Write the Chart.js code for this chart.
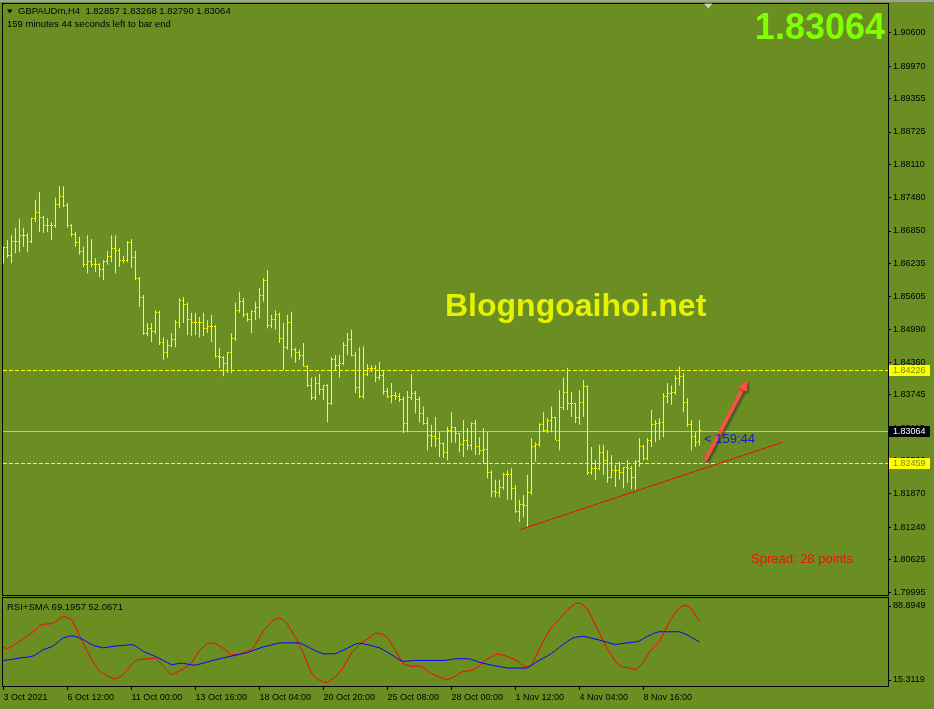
<!DOCTYPE html>
<html>
<head>
<meta charset="utf-8">
<script src="https://cdn.jsdelivr.net/npm/chart.js@4.4.0/dist/chart.umd.min.js"></script>
<style>
  body { margin: 0; background: #6b8e23; width: 934px; height: 709px; overflow: hidden; position: relative; }
  #mainChart { position: absolute; left: 0; top: 0; }
  #rsiChart { position: absolute; left: 0; top: 596px; }
</style>
</head>
<body>
<canvas id="mainChart" width="934" height="596"></canvas>
<canvas id="rsiChart" width="934" height="113"></canvas>
<script>
// GBPAUD H4 bars
const opens = [
  1.8649,1.8653,1.8638,1.8666,1.8666,1.8676,1.8676,1.8666,1.8708,1.8721,
  1.8710,1.8696,1.8695,1.8696,1.8736,1.8751,1.8734,1.8695,1.8679,1.8664,
  1.8647,1.8621,1.8628,1.8621,1.8621,1.8613,1.8628,1.8636,1.8651,1.8649,
  1.8630,1.8630,1.8664,1.8634,1.8596,1.8560,1.8490,1.8501,1.8494,1.8530,
  1.8473,1.8454,1.8469,1.8479,1.8511,1.8554,1.8545,1.8518,1.8511,1.8511,
  1.8511,1.8501,1.8505,1.8505,1.8448,1.8445,1.8435,1.8454,1.8481,1.8535,
  1.8551,1.8526,1.8518,1.8532,1.8541,1.8562,1.8592,1.8507,1.8518,1.8526,
  1.8481,1.8464,1.8511,1.8460,1.8454,1.8450,1.8429,1.8392,1.8369,1.8397,
  1.8384,1.8392,1.8359,1.8441,1.8431,1.8435,1.8469,1.8479,1.8450,1.8388,
  1.8371,1.8414,1.8424,1.8424,1.8407,1.8412,1.8382,1.8371,1.8373,1.8371,
  1.8365,1.8320,1.8369,1.8378,1.8365,1.8340,1.8321,1.8297,1.8295,1.8293,
  1.8282,1.8266,1.8308,1.8312,1.8301,1.8280,1.8289,1.8278,1.8321,1.8276,
  1.8270,1.8272,1.8227,1.8191,1.8189,1.8200,1.8223,1.8223,1.8198,1.8153,
  1.8168,1.8166,1.8189,1.8276,1.8280,1.8318,1.8308,1.8327,1.8331,1.8289,
  1.8350,1.8380,1.8359,1.8359,1.8331,1.8361,1.8390,1.8227,1.8236,1.8236,
  1.8266,1.8251,1.8219,1.8232,1.8232,1.8227,1.8238,1.8236,1.8219,1.8248,
  1.8276,1.8255,1.8289,1.8318,1.8321,1.8323,1.8371,1.8378,1.8380,1.8405,
  1.8410,1.8361,1.8318,1.8295,1.82857
];
const highs = [
  1.8655,1.8668,1.8677,1.8691,1.8708,1.8691,1.8681,1.8710,1.8744,1.8759,
  1.8714,1.8710,1.8702,1.8748,1.8770,1.8770,1.8738,1.8698,1.8683,1.8674,
  1.8655,1.8677,1.8670,1.8634,1.8624,1.8630,1.8647,1.8677,1.8677,1.8653,
  1.8638,1.8666,1.8670,1.8647,1.8598,1.8564,1.8511,1.8511,1.8535,1.8534,
  1.8484,1.8479,1.8492,1.8516,1.8558,1.8560,1.8549,1.8530,1.8530,1.8522,
  1.8530,1.8516,1.8526,1.8507,1.8464,1.8448,1.8456,1.8492,1.8549,1.8570,
  1.8558,1.8530,1.8535,1.8551,1.8577,1.8596,1.8611,1.8526,1.8535,1.8530,
  1.8511,1.8526,1.8532,1.8464,1.8460,1.8473,1.8431,1.8407,1.8409,1.8414,
  1.8393,1.8395,1.8446,1.8450,1.8450,1.8475,1.8492,1.8498,1.8456,1.8465,
  1.8467,1.8433,1.8431,1.8431,1.8437,1.8420,1.8388,1.8397,1.8380,1.8378,
  1.8371,1.8382,1.8414,1.8382,1.8371,1.8352,1.8333,1.8318,1.8333,1.8304,
  1.8284,1.8314,1.8342,1.8314,1.8302,1.8327,1.8312,1.8323,1.8327,1.8295,
  1.8312,1.8304,1.8232,1.8214,1.8214,1.8227,1.8232,1.8236,1.8204,1.8176,
  1.8185,1.8223,1.8293,1.8285,1.8321,1.8342,1.8331,1.8352,1.8333,1.8384,
  1.8407,1.8426,1.8380,1.8359,1.8384,1.8403,1.8393,1.8276,1.8251,1.8280,
  1.8280,1.8270,1.8261,1.8242,1.8248,1.8238,1.8251,1.8240,1.8251,1.8293,
  1.8280,1.8293,1.8346,1.8327,1.8331,1.8378,1.8397,1.8393,1.8412,1.8428,
  1.8416,1.8369,1.8327,1.8304,1.83268
];
const lows = [
  1.8624,1.8634,1.8624,1.8643,1.8645,1.8655,1.8645,1.8662,1.8702,1.8683,
  1.8681,1.8683,1.8668,1.8691,1.8729,1.8730,1.8691,1.8674,1.8655,1.8640,
  1.8617,1.8605,1.8617,1.8607,1.8598,1.8592,1.8621,1.8626,1.8605,1.8617,
  1.8624,1.8626,1.8615,1.8592,1.8541,1.8488,1.8486,1.8475,1.8490,1.8469,
  1.8441,1.8445,1.8465,1.8465,1.8501,1.8511,1.8488,1.8486,1.8488,1.8484,
  1.8486,1.8492,1.8475,1.8445,1.8426,1.8410,1.8416,1.8416,1.8477,1.8530,
  1.8522,1.8513,1.8492,1.8516,1.8520,1.8551,1.8501,1.8501,1.8498,1.8473,
  1.8422,1.8460,1.8445,1.8435,1.8441,1.8428,1.8390,1.8365,1.8365,1.8375,
  1.8365,1.8323,1.8356,1.8422,1.8407,1.8431,1.8450,1.8448,1.8378,1.8369,
  1.8367,1.8410,1.8418,1.8399,1.8403,1.8375,1.8369,1.8359,1.8365,1.8361,
  1.8302,1.8304,1.8365,1.8340,1.8323,1.8318,1.8270,1.8276,1.8276,1.8257,
  1.8255,1.8251,1.8284,1.8284,1.8266,1.8257,1.8270,1.8270,1.8261,1.8261,
  1.8246,1.8217,1.8181,1.8181,1.8181,1.8195,1.8176,1.8176,1.8151,1.8134,
  1.8143,1.8124,1.8185,1.8248,1.8276,1.8304,1.8302,1.8304,1.8289,1.8270,
  1.8346,1.8346,1.8333,1.8321,1.8318,1.8333,1.8223,1.8223,1.8214,1.8232,
  1.8223,1.8208,1.8217,1.8200,1.8214,1.8198,1.8208,1.8196,1.8195,1.8238,
  1.8251,1.8251,1.8276,1.8285,1.8289,1.8295,1.8359,1.8356,1.8375,1.8393,
  1.8342,1.8314,1.8270,1.8276,1.82790
];
const closes = [
  1.8653,1.8638,1.8666,1.8666,1.8676,1.8676,1.8666,1.8708,1.8721,1.8710,
  1.8696,1.8695,1.8696,1.8736,1.8751,1.8734,1.8695,1.8679,1.8664,1.8647,
  1.8621,1.8628,1.8621,1.8621,1.8613,1.8628,1.8636,1.8651,1.8649,1.8630,
  1.8630,1.8664,1.8634,1.8596,1.8560,1.8490,1.8501,1.8494,1.8530,1.8473,
  1.8454,1.8469,1.8479,1.8511,1.8554,1.8545,1.8518,1.8511,1.8511,1.8511,
  1.8501,1.8505,1.8505,1.8448,1.8445,1.8435,1.8454,1.8481,1.8535,1.8551,
  1.8526,1.8518,1.8532,1.8541,1.8562,1.8592,1.8507,1.8518,1.8526,1.8481,
  1.8464,1.8511,1.8460,1.8454,1.8450,1.8429,1.8392,1.8369,1.8397,1.8384,
  1.8392,1.8359,1.8441,1.8431,1.8435,1.8469,1.8479,1.8450,1.8388,1.8371,
  1.8414,1.8424,1.8424,1.8407,1.8412,1.8382,1.8371,1.8373,1.8371,1.8365,
  1.8320,1.8369,1.8378,1.8365,1.8340,1.8321,1.8297,1.8295,1.8293,1.8282,
  1.8266,1.8308,1.8312,1.8301,1.8280,1.8289,1.8278,1.8321,1.8276,1.8270,
  1.8272,1.8227,1.8191,1.8189,1.8200,1.8223,1.8223,1.8198,1.8153,1.8168,
  1.8166,1.8189,1.8276,1.8280,1.8318,1.8308,1.8327,1.8331,1.8289,1.8350,
  1.8380,1.8359,1.8359,1.8331,1.8361,1.8390,1.8227,1.8236,1.8236,1.8266,
  1.8251,1.8219,1.8232,1.8232,1.8227,1.8238,1.8236,1.8219,1.8248,1.8276,
  1.8255,1.8289,1.8318,1.8321,1.8323,1.8371,1.8378,1.8380,1.8405,1.8410,
  1.8361,1.8318,1.8295,1.8285,1.83064
];

// RSI and its SMA, per bar
const rsiValues = [
  47.7,46.5,48.3,50.4,52.6,54.9,57.2,59.5,62.3,65.6,
  67.0,67.2,67.4,69.0,71.6,73.8,72.5,71.1,64.4,57.6,
  50.7,44.1,37.7,32.5,27.8,25.6,23.4,22.1,21.2,22.9,
  25.0,29.3,33.1,36.5,37.5,37.7,38.0,38.3,38.7,35.2,
  31.4,28.0,24.6,26.3,28.0,29.7,32.2,34.5,39.8,45.3,
  48.3,51.0,51.3,50.8,49.1,46.6,44.1,41.1,41.5,42.0,
  43.1,44.5,45.8,50.0,55.9,61.6,65.2,69.1,71.1,72.4,
  70.3,66.9,61.4,55.5,49.1,42.4,33.9,26.1,22.5,20.0,
  18.7,18.3,20.8,22.9,27.2,31.0,36.9,43.0,46.6,50.0,
  52.5,54.6,57.2,59.5,59.3,58.0,55.9,50.4,44.9,39.0,
  33.7,32.7,31.6,31.9,32.1,31.0,27.7,25.5,24.1,22.8,
  21.4,20.7,22.1,23.4,26.3,27.6,27.8,28.4,29.9,32.4,
  35.6,38.1,39.8,42.0,41.9,40.9,39.9,38.6,37.1,34.8,
  31.8,31.5,32.9,39.8,46.8,52.9,58.9,64.4,67.9,71.5,
  75.4,79.2,81.9,84.2,84.8,82.6,79.8,73.1,66.3,59.5,
  52.8,46.2,40.7,35.4,32.7,31.0,30.8,29.7,29.2,31.6,
  35.4,41.1,45.8,49.1,52.5,59.0,65.8,72.0,77.1,80.9,
  82.5,82.3,80.0,74.3,69.1957
];
const smaValues = [
  36.6,37.1,37.6,38.1,38.7,39.1,39.5,39.9,41.4,43.7,
  45.8,46.9,48.1,50.2,53.1,55.7,56.5,57.3,56.8,55.4,
  54.0,52.0,50.0,48.6,47.9,47.2,47.8,48.3,48.7,49.0,
  49.3,49.6,49.9,49.0,46.4,44.2,42.8,41.4,39.9,38.3,
  36.6,34.8,33.1,33.6,34.3,34.2,33.6,33.0,32.7,33.6,
  34.5,35.4,36.4,37.2,38.0,38.8,39.6,40.3,41.1,41.8,
  42.5,43.2,44.5,45.7,46.9,48.1,48.9,49.7,50.6,51.3,
  51.4,51.4,51.4,51.4,51.4,49.8,48.1,46.4,44.8,43.4,
  42.1,42.2,42.3,42.4,43.8,45.4,47.0,48.8,50.4,51.2,
  50.6,49.8,49.1,48.1,47.3,45.4,43.5,41.5,39.3,37.0,
  35.9,36.1,36.4,36.6,36.7,36.7,36.7,36.7,36.7,36.7,
  36.7,37.0,37.6,38.1,38.1,38.1,38.1,37.6,36.3,35.1,
  34.3,33.5,32.8,32.1,31.5,30.9,30.3,30.3,30.3,30.3,
  30.3,30.5,32.7,35.0,37.0,38.7,40.5,42.5,45.1,47.8,
  50.3,52.6,54.9,56.0,56.6,56.8,56.1,55.3,54.5,53.7,
  52.7,51.8,50.7,50.1,50.5,51.0,51.4,51.8,52.1,53.0,
  55.0,56.8,58.4,59.9,60.7,60.7,60.7,60.7,60.7,60.7,
  59.4,57.9,56.0,54.0,52.0671
];

const dateLabels = ['3 Oct 2021', '6 Oct 12:00', '11 Oct 00:00', '13 Oct 16:00', '18 Oct 04:00',
  '20 Oct 20:00', '25 Oct 08:00', '28 Oct 00:00', '1 Nov 12:00', '4 Nov 04:00', '8 Nov 16:00'];
const dateTickBars = [0, 16, 32, 48, 64, 80, 96, 112, 128, 144, 160];

const priceTicks = [1.90600, 1.89970, 1.89355, 1.88725, 1.88110, 1.87480, 1.86850, 1.86235, 1.85605,
  1.84990, 1.84360, 1.83745, 1.83115, 1.82500, 1.81870, 1.81240, 1.80625, 1.79995];
const priceMin = 1.79957, priceMax = 1.91149;
const rsiMin = 15.3119, rsiMax = 88.8949;
const rsiTickLabels = ['88.8949', '15.3119'];
const xMin = -0.125, xMax = 221.125;   // visible bar slots incl. right shift

const levelLines = [1.84226, 1.82459];
const bidPrice = 1.83064;
const trendLine = [{ x: 129, y: 1.8119 }, { x: 194.8, y: 1.8285 }];
const arrowLine = [{ x: 175.6, y: 1.8253 }, { x: 186, y: 1.8403 }];

const headerText = 'GBPAUDm,H4  1.82857 1.83268 1.82790 1.83064';
const timerText = '159 minutes 44 seconds left to bar end';
const rsiTitle = 'RSI+SMA 69.1957 52.0671';

Chart.defaults.font.family = "'Liberation Sans', Arial, sans-serif";
Chart.defaults.font.size = 9;
Chart.defaults.color = '#000000';
Chart.defaults.animation = false;
Chart.defaults.plugins.legend.display = false;
Chart.defaults.plugins.tooltip.enabled = false;

const FONT = "'Liberation Sans', Arial, sans-serif";

// fixed axis sizes, no extra room for overhanging labels
function fixWidth(ax) {
  ax.width = 46;
  ax.paddingTop = 0; ax.paddingBottom = 0;
}
function fixHeight(ax) {
  ax.height = 23;
  ax.paddingLeft = 0; ax.paddingRight = 0;
}

// black frame round the plot area
const framePlugin = {
  id: 'frame',
  afterDraw(chart) {
    const { ctx, chartArea: a } = chart;
    ctx.save();
    ctx.strokeStyle = '#000';
    ctx.lineWidth = 1;
    ctx.strokeRect(a.left - 0.5, a.top - 0.5, a.right - a.left + 1, a.bottom - a.top + 1);
    ctx.restore();
  }
};

// horizontal level lines and bid line
const levelsPlugin = {
  id: 'levels',
  beforeDatasetsDraw(chart) {
    const { ctx, chartArea: a, scales: { y } } = chart;
    ctx.save();
    ctx.lineWidth = 1;
    ctx.strokeStyle = '#ffff00';
    ctx.setLineDash([4, 2]);
    levelLines.forEach(v => {
      const py = Math.round(y.getPixelForValue(v)) + 0.5;
      ctx.beginPath(); ctx.moveTo(a.left, py); ctx.lineTo(a.right, py); ctx.stroke();
    });
    ctx.setLineDash([]);
    ctx.strokeStyle = '#c0c0c0';
    const by = Math.round(y.getPixelForValue(bidPrice)) + 0.5;
    ctx.beginPath(); ctx.moveTo(a.left, by); ctx.lineTo(a.right, by); ctx.stroke();
    ctx.restore();
  }
};

// open / close ticks of the OHLC bars
const ohlcTicks = {
  id: 'ohlcTicks',
  afterDatasetsDraw(chart) {
    const { ctx, scales: { x, y } } = chart;
    ctx.save();
    ctx.fillStyle = '#ffff00';
    opens.forEach((o, i) => {
      const px = x.getPixelForValue(i);
      ctx.fillRect(px - 1.5, Math.floor(y.getPixelForValue(o)), 1, 1);
      ctx.fillRect(px + 0.5, Math.floor(y.getPixelForValue(closes[i])), 1, 1);
    });
    ctx.restore();
  }
};

function drawArrow(ctx, x0, y0, x1, y1) {
  const ang = Math.atan2(y1 - y0, x1 - x0);
  const head = 11, half = 5;
  const bx = x1 - head * Math.cos(ang), by = y1 - head * Math.sin(ang);
  ctx.beginPath(); ctx.moveTo(x0, y0); ctx.lineTo(bx, by); ctx.stroke();
  ctx.beginPath();
  ctx.moveTo(x1, y1);
  ctx.lineTo(bx + half * Math.sin(ang), by - half * Math.cos(ang));
  ctx.lineTo(bx - half * Math.sin(ang), by + half * Math.cos(ang));
  ctx.closePath(); ctx.fill();
}

function priceTag(ctx, yScale, left, value, bg, fg) {
  const py = Math.round(yScale.getPixelForValue(value));
  ctx.fillStyle = bg;
  ctx.fillRect(left + 1, py - 5, 41, 11);
  ctx.fillStyle = fg;
  ctx.textAlign = 'left';
  ctx.textBaseline = 'middle';
  ctx.font = '9px ' + FONT;
  ctx.fillText(value.toFixed(5), left + 5, py + 0.5);
}

// texts, arrow and axis tags
const overlayPlugin = {
  id: 'overlay',
  beforeDraw(chart) {
    const { ctx } = chart;
    ctx.save();
    ctx.fillStyle = '#a0a0a0';
    ctx.fillRect(0, 0, 934, 2);
    ctx.restore();
  },
  afterDraw(chart) {
    const { ctx, chartArea: a, scales: { x, y } } = chart;
    ctx.save();

    // arrow
    ctx.strokeStyle = '#ff4f45';
    ctx.fillStyle = '#ff4f45';
    ctx.lineWidth = 3.5;
    ctx.lineCap = 'round';
    ctx.shadowColor = 'rgba(40,40,40,0.55)';
    ctx.shadowOffsetX = 2; ctx.shadowOffsetY = 2; ctx.shadowBlur = 2;
    drawArrow(ctx, x.getPixelForValue(arrowLine[0].x), y.getPixelForValue(arrowLine[0].y),
      x.getPixelForValue(arrowLine[1].x), y.getPixelForValue(arrowLine[1].y));
    ctx.shadowColor = 'transparent';

    // header
    ctx.fillStyle = '#000';
    ctx.beginPath(); ctx.moveTo(7, 9.5); ctx.lineTo(12.5, 9.5); ctx.lineTo(9.75, 13.5); ctx.closePath(); ctx.fill();
    ctx.font = '9.5px ' + FONT;
    ctx.textAlign = 'left';
    ctx.textBaseline = 'middle';
    ctx.fillText(headerText, 18, 11.5);
    ctx.fillText(timerText, 7, 24.5);

    // shift marker
    ctx.fillStyle = '#d0d0d0';
    ctx.beginPath(); ctx.moveTo(704, 3.5); ctx.lineTo(712.5, 3.5); ctx.lineTo(708.2, 8.5); ctx.closePath(); ctx.fill();

    // big bid
    ctx.fillStyle = '#7fff00';
    ctx.font = 'bold 36px ' + FONT;
    ctx.textAlign = 'right';
    ctx.textBaseline = 'alphabetic';
    ctx.fillText(bidPrice.toFixed(5), 885, 39);

    // watermark
    ctx.fillStyle = '#e5f200';
    ctx.font = 'bold 32px ' + FONT;
    ctx.textAlign = 'left';
    ctx.fillText('Blogngoaihoi.net', 445, 316);

    // timer and spread
    ctx.font = '13px ' + FONT;
    ctx.fillStyle = '#1a1acc';
    ctx.fillText('< 159:44', 704, 443);
    ctx.fillStyle = '#f01010';
    ctx.fillText('Spread: 28 points', 751, 563);

    // axis tags
    levelLines.forEach(v => priceTag(ctx, y, a.right, v, '#ffff00', '#6b8e23'));
    priceTag(ctx, y, a.right, bidPrice, '#000000', '#ffffff');
    ctx.restore();
  }
};

const rsiTitlePlugin = {
  id: 'rsiTitle',
  afterDraw(chart) {
    const { ctx } = chart;
    ctx.save();
    ctx.fillStyle = '#000';
    ctx.font = '9.5px ' + FONT;
    ctx.textAlign = 'left';
    ctx.textBaseline = 'middle';
    ctx.fillText(rsiTitle, 7, 11.5);
    ctx.restore();
  }
};

const barData = highs.map((h, i) => ({ x: i, y: [lows[i], h] }));

new Chart(document.getElementById('mainChart'), {
  type: 'bar',
  data: {
    datasets: [
      {
        type: 'bar', data: barData, backgroundColor: '#ffff00', borderWidth: 0,
        barThickness: 1, inflateAmount: 0, grouped: false, order: 2
      },
      {
        type: 'line', data: trendLine, borderColor: '#ff0000', borderWidth: 1,
        pointRadius: 0, order: 1
      }
    ]
  },
  options: {
    responsive: false,
    events: [],
    layout: { padding: { left: 3, top: 4, right: 0, bottom: 1 } },
    scales: {
      x: { type: 'linear', display: false, min: xMin, max: xMax, offset: false, grid: { offset: false } },
      y: {
        type: 'linear', position: 'right', min: priceMin, max: priceMax,
        afterBuildTicks: ax => { ax.ticks = priceTicks.map(v => ({ value: v })); },
        afterFit: fixWidth,
        ticks: { callback: v => Number(v).toFixed(5), padding: 2, autoSkip: false, color: '#000' },
        grid: { drawOnChartArea: false, tickLength: 3, color: '#000' },
        border: { color: '#000' }
      }
    }
  },
  plugins: [levelsPlugin, ohlcTicks, framePlugin, overlayPlugin]
});

new Chart(document.getElementById('rsiChart'), {
  type: 'line',
  data: {
    datasets: [
      { data: smaValues.map((v, i) => ({ x: i, y: v })), borderColor: '#0000ff', borderWidth: 1, pointRadius: 0 },
      { data: rsiValues.map((v, i) => ({ x: i, y: v })), borderColor: '#ff0000', borderWidth: 1, pointRadius: 0 }
    ]
  },
  options: {
    responsive: false,
    events: [],
    layout: { padding: { left: 3, top: 2, right: 0, bottom: 0 } },
    scales: {
      x: {
        type: 'linear', min: xMin, max: xMax, offset: false,
        afterBuildTicks: ax => { ax.ticks = dateTickBars.map(v => ({ value: v })); },
        afterFit: fixHeight,
        ticks: {
          callback: v => dateLabels[dateTickBars.indexOf(v)], align: 'start', autoSkip: false,
          maxRotation: 0, minRotation: 0, padding: 2, color: '#000'
        },
        grid: { drawOnChartArea: false, tickLength: 4, color: '#000' },
        border: { color: '#000' }
      },
      y: {
        type: 'linear', position: 'right', min: rsiMin, max: rsiMax,
        afterBuildTicks: ax => {
          const span = rsiMax - rsiMin;
          ax.ticks = [{ value: rsiMax - span * 8 / 88 }, { value: rsiMin + span * 6 / 88 }];
        },
        afterFit: fixWidth,
        ticks: { callback: (v, i) => rsiTickLabels[i], padding: 2, autoSkip: false, color: '#000' },
        grid: { drawOnChartArea: false, tickLength: 3, color: '#000' },
        border: { color: '#000' }
      }
    }
  },
  plugins: [framePlugin, rsiTitlePlugin]
});
</script>
</body>
</html>
